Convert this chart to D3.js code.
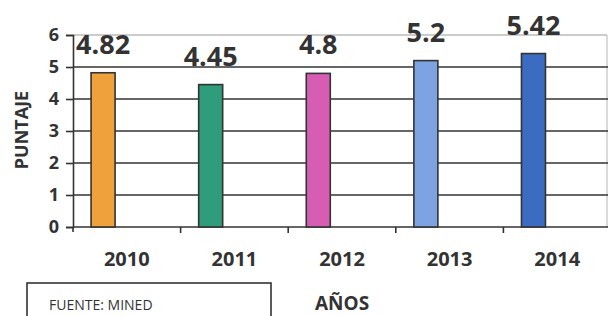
<!DOCTYPE html>
<html>
<head>
<meta charset="utf-8">
<script src="https://cdn.jsdelivr.net/npm/d3@7"></script>
<style>
  body { margin: 0; background: #fff; }
  svg { display: block; font-family: "Open Sans", sans-serif; }
</style>
</head>
<body>
<div id="chart"></div>
<script>
// chart data
var years = ['2010', '2011', '2012', '2013', '2014'];
var scores = [4.82, 4.45, 4.8, 5.2, 5.42];
var labels = ['4.82', '4.45', '4.8', '5.2', '5.42'];
var barColors = ['#efa23c', '#2f9c7c', '#d65db2', '#7ea3e2', '#3b6cc2'];
var yTicks = [0, 1, 2, 3, 4, 5, 6];

var width = 608;
var height = 316;
var ink = '#333';

var svg = d3.select('#chart')
  .append('svg')
  .attr('width', width)
  .attr('height', height);

var x = d3.scaleBand()
  .domain(years)
  .range([73, 611]);

var y = d3.scaleLinear()
  .domain([0, 6])
  .range([227, 35]);

// plot border (light) at top / right
svg.append('line')
  .attr('x1', 73).attr('x2', 607)
  .attr('y1', y(6)).attr('y2', y(6))
  .attr('stroke', '#9a9a9a').attr('stroke-width', 1.2);
svg.append('line')
  .attr('x1', 607).attr('x2', 607)
  .attr('y1', y(6)).attr('y2', y(0))
  .attr('stroke', '#b5b5b5').attr('stroke-width', 1);

// gridlines
svg.append('g')
  .selectAll('line')
  .data(yTicks.filter(function(d) { return d > 0 && d < 6; }))
  .enter()
  .append('line')
  .attr('x1', 73).attr('x2', width)
  .attr('y1', function(d) { return y(d); })
  .attr('y2', function(d) { return y(d); })
  .attr('stroke', ink)
  .attr('stroke-width', 1.6);

// y axis
var yAxis = svg.append('g')
  .attr('transform', 'translate(73,0)')
  .call(d3.axisLeft(y).tickValues(yTicks).tickSize(7).tickPadding(7).tickFormat(d3.format('d')));
yAxis.select('.domain').attr('stroke', ink).attr('stroke-width', 1.6);
yAxis.selectAll('.tick line').attr('stroke', ink).attr('stroke-width', 1.6);
yAxis.selectAll('text')
  .attr('fill', ink)
  .style('font-size', '18px')
  .style('font-weight', 'bold')
  .style('font-family', '"Open Sans", sans-serif');

// x axis
var xAxis = svg.append('g')
  .attr('transform', 'translate(0,' + y(0) + ')')
  .call(d3.axisBottom(x).tickSize(0).tickPadding(25));
xAxis.select('.domain').attr('d', 'M73,0H' + width).attr('stroke', ink).attr('stroke-width', 1.6);
xAxis.selectAll('text')
  .attr('fill', ink)
  .style('font-size', '20px')
  .style('font-weight', 'bold')
  .style('font-family', '"Open Sans", sans-serif');

// tick marks at category boundaries
svg.append('g')
  .selectAll('line')
  .data(years.slice(1))
  .enter()
  .append('line')
  .attr('x1', function(d) { return x(d); })
  .attr('x2', function(d) { return x(d); })
  .attr('y1', y(0)).attr('y2', y(0) + 6)
  .attr('stroke', ink).attr('stroke-width', 1.6);
svg.append('line')
  .attr('x1', 73).attr('x2', 73)
  .attr('y1', y(0)).attr('y2', y(0) + 5)
  .attr('stroke', ink).attr('stroke-width', 1.6);

// bars
var barOffset = x.bandwidth() * 0.168;
var barWidth = 24;

svg.append('g')
  .selectAll('rect')
  .data(scores)
  .enter()
  .append('rect')
  .attr('x', function(d, i) { return x(years[i]) + barOffset; })
  .attr('y', function(d) { return y(d); })
  .attr('width', barWidth)
  .attr('height', function(d) { return y(0) - y(d); })
  .attr('fill', function(d, i) { return barColors[i]; })
  .attr('stroke', ink)
  .attr('stroke-width', 1.6);

// value labels
svg.append('g')
  .selectAll('text')
  .data(scores)
  .enter()
  .append('text')
  .attr('x', function(d, i) { return x(years[i]) + barOffset + barWidth / 2; })
  .attr('y', function(d) { return y(d) - 19; })
  .attr('text-anchor', 'middle')
  .attr('fill', ink)
  .style('font-size', '27px')
  .style('font-weight', 'bold')
  .text(function(d, i) { return labels[i]; });

// axis titles
svg.append('text')
  .attr('transform', 'translate(28,130) rotate(-90)')
  .attr('text-anchor', 'middle')
  .attr('fill', ink)
  .style('font-size', '18px')
  .style('font-weight', 'bold')
  .text('PUNTAJE');

svg.append('text')
  .attr('x', 315)
  .attr('y', 310)
  .attr('fill', ink)
  .style('font-size', '19px')
  .style('font-weight', 'bold')
  .text('AÑOS');

// source box
svg.append('rect')
  .attr('x', 27).attr('y', 283)
  .attr('width', 244).attr('height', 60)
  .attr('fill', 'none')
  .attr('stroke', ink)
  .attr('stroke-width', 1.6);

svg.append('text')
  .attr('x', 49)
  .attr('y', 310)
  .attr('fill', ink)
  .style('font-size', '14px')
  .text('FUENTE: MINED');
</script>
</body>
</html>
